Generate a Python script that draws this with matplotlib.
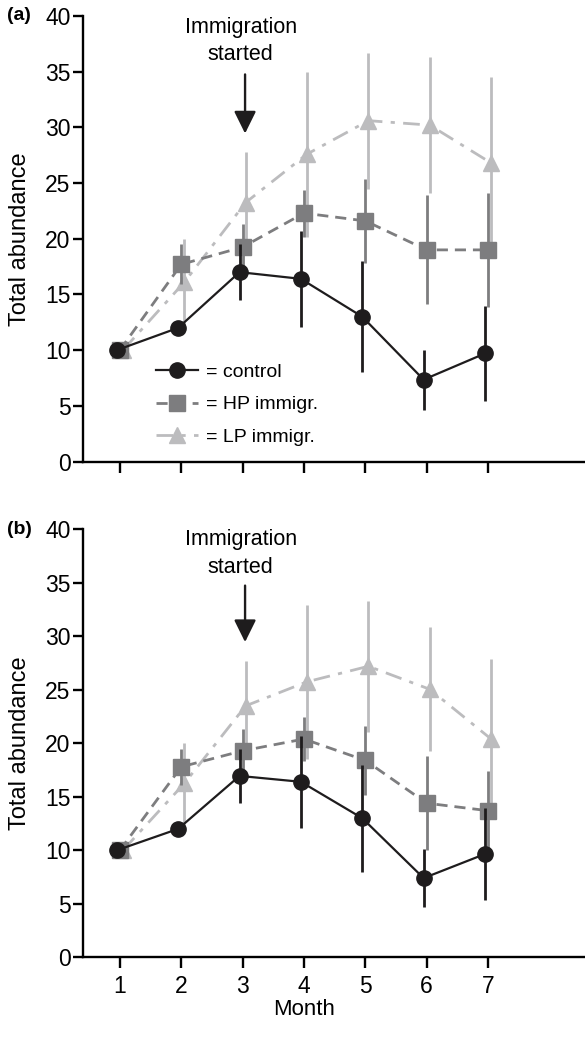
"""Total abundance per month, control vs HP / LP immigration, panels (a) and (b)."""
import matplotlib
matplotlib.use("Agg")
import matplotlib.pyplot as plt
from matplotlib.lines import Line2D

BLACK, DARK, LIGHT = "#1e1c1d", "#7d7d7f", "#bcbcbe"

months = [1, 2, 3, 4, 5, 6, 7]

# panel (a)
ctrl_a = [10, 12, 17.0, 16.4, 13.0, 7.35, 9.7]
ctrl_a_err = [0, 0, 2.5, 4.3, 5.0, 2.7, 4.3]
hp_a = [10, 17.7, 19.25, 22.3, 21.6, 19.0, 19.0]
hp_a_err = [0, 1.8, 2.1, 2.1, 3.8, 4.9, 5.1]
lp_a = [10, 16.1, 23.25, 27.6, 30.6, 30.2, 26.8]
lp_a_err = [0, 3.9, 4.5, 7.4, 6.1, 6.1, 7.7]

# panel (b)
ctrl_b = [10, 12, 16.95, 16.4, 13.0, 7.4, 9.65]
ctrl_b_err = [0, 0, 2.5, 4.3, 5.0, 2.7, 4.3]
hp_b = [10, 17.8, 19.3, 20.4, 18.4, 14.4, 13.7]
hp_b_err = [0, 1.7, 2.0, 2.1, 3.2, 4.4, 3.7]
lp_b = [10, 16.25, 23.5, 25.75, 27.2, 25.05, 20.4]
lp_b_err = [0, 3.8, 4.2, 7.2, 6.1, 5.8, 7.5]

yticks = [0, 5, 10, 15, 20, 25, 30, 35, 40]

plt.rcParams["font.family"] = ["Liberation Sans", "DejaVu Sans"]

fig = plt.figure(figsize=(5.85, 10.43), dpi=100)
ax_a = fig.add_axes([0.142, 0.5575, 0.858, 0.4272])
ax_b = fig.add_axes([0.142, 0.0822, 0.858, 0.4103])

LP_LS = (0, (6, 3, 1.5, 3))
HP_LS = (0, (4, 2.5))
XMIN, XMAX = 0.4, 8.58


def panel(ax, ctrl, ctrl_err, hp, hp_err, lp, lp_err, xlabels):
    x_c = [m - 0.05 for m in months]
    x_h = [m + 0.0 for m in months]
    x_l = [m + 0.05 for m in months]
    ax.errorbar(x_l, lp, yerr=lp_err, color=LIGHT, ecolor=LIGHT, lw=2,
                elinewidth=2, ls=LP_LS, marker="^", ms=12,
                capsize=0, zorder=2)
    ax.errorbar(x_h, hp, yerr=hp_err, color=DARK, ecolor=DARK, lw=2,
                elinewidth=2, ls=HP_LS, marker="s", ms=11,
                capsize=0, zorder=3)
    ax.errorbar(x_c, ctrl, yerr=ctrl_err, color=BLACK, ecolor=BLACK, lw=1.6,
                elinewidth=2, ls="-", marker="o", ms=11, capsize=0,
                zorder=4)
    ax.set_xlim(XMIN, XMAX)
    ax.set_ylim(0, 40)
    ax.set_yticks(yticks)
    ax.set_xticks(months)
    if xlabels:
        ax.set_xticklabels([str(m) for m in months])
        ax.set_xlabel("Month", fontsize=16)
        # centre the label under the months, not the whole axis
        ax.xaxis.set_label_coords((4 - XMIN) / (XMAX - XMIN), -0.098)
    else:
        ax.set_xticklabels([])
    ax.spines["top"].set_visible(False)
    ax.spines["right"].set_visible(False)
    ax.spines["left"].set_linewidth(1.7)
    ax.spines["bottom"].set_linewidth(1.7)
    ax.tick_params(axis="y", direction="out", length=7, width=1.7,
                   labelsize=16.5, pad=2)
    ax.tick_params(axis="x", direction="out", length=8, width=1.7,
                   labelsize=16.5, pad=5)
    ax.set_ylabel("Total abundance", fontsize=17, labelpad=10)
    ax.text(2.97, 37.75, "Immigration\nstarted", ha="center", va="center",
            fontsize=15.5, linespacing=1.4)
    ax.annotate("", xy=(3.04, 29.2), xytext=(3.04, 35.0),
                arrowprops=dict(arrowstyle="-|>,head_length=0.85,head_width=0.42",
                                color=BLACK, lw=1.7, mutation_scale=16))


panel(ax_a, ctrl_a, ctrl_a_err, hp_a, hp_a_err, lp_a, lp_a_err, False)
panel(ax_b, ctrl_b, ctrl_b_err, hp_b, hp_b_err, lp_b, lp_b_err, True)

fig.text(0.012, 1 - 16 / 1043, "(a)", fontsize=14, fontweight="bold",
         ha="left", va="center")
fig.text(0.012, 1 - 529 / 1043, "(b)", fontsize=14, fontweight="bold",
         ha="left", va="center")

handles = [
    Line2D([], [], color=BLACK, lw=1.6, ls="-", marker="o", ms=11),
    Line2D([], [], color=DARK, lw=2, ls=HP_LS, marker="s", ms=11),
    Line2D([], [], color=LIGHT, lw=2, ls=LP_LS, marker="^", ms=12),
]
labels = ["= control", "= HP immigr.", "= LP immigr."]
ax_a.legend(handles, labels, loc="upper left", bbox_to_anchor=(0.125, 0.243),
            frameon=False, fontsize=14, handlelength=2.2, handletextpad=0.4,
            labelspacing=0.78, borderpad=0)

fig.savefig("out.png", dpi=100, facecolor="white")
